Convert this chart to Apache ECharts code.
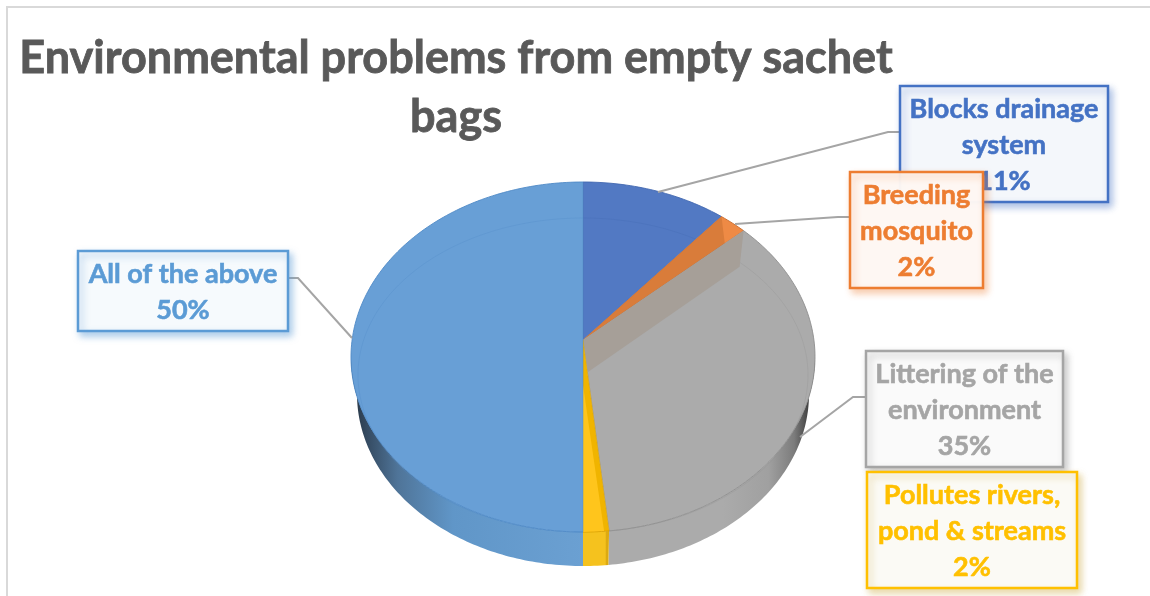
<!DOCTYPE html>
<html><head><meta charset="utf-8">
<style>html,body{margin:0;padding:0;background:#fff}#c{width:1150px;height:596px}</style>
<script src="https://cdn.jsdelivr.net/npm/echarts@6/dist/echarts.min.js"></script>
</head><body><div id="c"></div>
<script>
(function () {
// ---- data ----
const categories = ['Blocks drainage\nsystem', 'Breeding\nmosquito', 'Littering of the\nenvironment', 'Pollutes rivers,\npond & streams', 'All of the above'];
const shares = [11, 2, 35, 2, 50];
const titleText = 'Environmental problems from empty sachet\nbags';

// ---- styles ----
const FONT = 'Lato, Carlito, "Open Sans", sans-serif';
const faceColors = ['#5279C3', '#EE8A45', '#ABABAB', '#F0B400', '#689FD6'];
const innerColors = ['#5279C3', '#D97C3A', '#ABABAB', '#F0B400', '#689FD6'];
const lineColors = ['#4268B0', '#C96A2A', '#8E8E8E', '#D9A000', '#4F8AC6'];
const labelColors = ['#4472C4', '#ED7D31', '#A5A5A5', '#FFC000', '#5B9BD5'];
const labelFills = ['rgba(247,249,252,0.96)', 'rgba(254,249,246,0.96)', '#FAFAFA', '#FBFAF5', '#F6FAFD'];
const shadowColors = ['rgba(68,114,196,.45)', 'rgba(237,125,49,.4)', 'rgba(120,120,120,.4)', 'rgba(200,160,40,.4)', 'rgba(91,155,213,.5)'];
const boxes = [[900, 86, 208, 116], [850, 172, 133, 116], [866, 351, 197, 116], [867, 472, 210, 116], [78, 251, 210, 80]];
const leaders = [
  [[658, 192], [888, 132], [900, 132]],
  [[735, 224], [838, 217], [850, 217]],
  [[800, 437], [853, 397], [866, 397]],
  [],
  [[352, 338], [298, 278], [288, 278]]
];
const wallStops = [
  null, null,
  [[0.80, '#ABABAB'], [0.90, '#A0A0A0'], [0.955, '#7C7C7C'], [0.985, '#444444'], [1, '#2E2E2E']],
  null,
  [[0, '#26323E'], [0.03, '#33485E'], [0.1, '#4F7498'], [0.22, '#6096C8'], [0.5, '#6BA0D2']]
];

// ---- pie view geometry ----
const topRim = {cx: 583, cy: 357, rx: 232, ry: 175};
const floorRim = {cx: 583, cy: 394, rx: 226, ry: 172};
const bevel = {cx: 583, cy: 375, rx: 225, ry: 157};
const apex = [583, 340];
const warp = 3; // perspective foreshortening of the angles, degrees

const rad = d => d * Math.PI / 180;
const view = t => t - warp * Math.sin(rad(2 * t));
const onEll = (e, deg) => [e.cx + e.rx * Math.sin(rad(deg)), e.cy - e.ry * Math.cos(rad(deg))];
const total = shares.reduce((a, b) => a + b, 0);
function span(i) {
  let s = 0;
  for (let k = 0; k < i; k++) s += shares[k];
  return [s / total * 360, (s + shares[i]) / total * 360];
}
function arc(e, a, b) {
  const n = Math.max(2, Math.ceil(Math.abs(b - a)));
  const out = [];
  for (let k = 0; k <= n; k++) out.push(onEll(e, a + (b - a) * k / n));
  return out;
}
// angle on the bevel ellipse where the ray apex -> rim point meets it
function bevelAngle(p) {
  const dx = (p[0] - apex[0]) / bevel.rx, dy = (p[1] - apex[1]) / bevel.ry;
  const ox = (apex[0] - bevel.cx) / bevel.rx, oy = (apex[1] - bevel.cy) / bevel.ry;
  const A = dx * dx + dy * dy, B = 2 * (ox * dx + oy * dy), C = ox * ox + oy * oy - 1;
  const t = (-B + Math.sqrt(B * B - 4 * A * C)) / (2 * A);
  const x = ox + dx * t, y = oy + dy * t;
  let d = Math.atan2(x, -y) * 180 / Math.PI;
  return d < 0 ? d + 360 : d;
}

function renderWall(params, api) {
  const i = params.dataIndex;
  const sp = span(i);
  const a = Math.max(view(sp[0]), 90), b = Math.min(view(sp[1]), 270);
  if (b <= a) return {type: 'group', children: []};
  const pts = arc(topRim, a, b).concat(arc(floorRim, b, a));
  let fill = '#F5C21E';
  if (wallStops[i]) {
    fill = {type: 'linear', x: 351, y: 0, x2: 815, y2: 0, global: true,
      colorStops: wallStops[i].map(s => ({offset: s[0], color: s[1]}))};
  } else if (i === 3) {
    fill = {type: 'linear', x: 0, y: 0, x2: 1, y2: 0,
      colorStops: [{offset: 0, color: '#F5C21E'}, {offset: 0.86, color: '#F5C21E'}, {offset: 0.87, color: '#DDAA10'}, {offset: 1, color: '#DDAA10'}]};
  }
  return {type: 'polygon', shape: {points: pts}, style: {fill: fill, stroke: null}, silent: true};
}

function renderFace(params, api) {
  const i = params.dataIndex;
  const sp = span(i);
  const a = view(sp[0]), b = view(sp[1]);
  const rim = arc(topRim, a, b);
  const ia = i === 0 ? 0 : bevelAngle(onEll(topRim, a));
  const ib = (i === shares.length - 1) ? 360 : bevelAngle(onEll(topRim, b));
  const inner = arc(bevel, ia, ib);
  const kids = [
    {type: 'polygon', shape: {points: [apex].concat(rim)},
      style: {fill: faceColors[i], stroke: null}}
  ];
  if (i === 1) { // the narrow slice is shaded up to just short of its rim tip
    const e = rim[rim.length - 1], t = 0.883;
    kids.push({type: 'polygon',
      shape: {points: [apex, rim[0], [apex[0] + (e[0] - apex[0]) * t, apex[1] + (e[1] - apex[1]) * t]]},
      style: {fill: innerColors[i], stroke: null}});
  } else {
    kids.push({type: 'polyline', shape: {points: inner}, style: {fill: null, stroke: lineColors[i], lineWidth: 1, opacity: 0.28}});
  }
  kids.push(
    {type: 'polyline', shape: {points: rim}, style: {fill: null, stroke: lineColors[i], lineWidth: 1, opacity: 0.9}},
    {type: 'polyline', shape: {points: [rim[0], apex, rim[rim.length - 1]]}, style: {fill: null, stroke: lineColors[i], lineWidth: 1, opacity: 0.45}}
  );
  if (i === 2) { // translucent cut face along the start of this slice
    const p = rim[0];
    kids.push({type: 'polygon', shape: {points: [apex, p, [p[0] - 4, p[1] + 36], [apex[0] + 5, apex[1] + 32]]},
      style: {fill: '#A69F98', stroke: null}});
  }
  if (i === 3) { // lit part of the narrow slice
    const p = rim[0], q = rim[rim.length - 1];
    kids.push({type: 'polygon', shape: {points: [[apex[0], apex[1] + 45], q, [p[0] - 5, p[1]]]},
      style: {fill: '#FFC51C', stroke: null}});
  }
  return {type: 'group', children: kids, silent: true};
}

function renderCallout(params, api) {
  const i = params.dataIndex;
  const b = boxes[i];
  const kids = [];
  if (leaders[i].length) {
    kids.push({type: 'polyline', shape: {points: leaders[i]},
      style: {fill: null, stroke: '#A5A5A5', lineWidth: 2}});
  }
  kids.push({type: 'rect', shape: {x: b[0], y: b[1], width: b[2], height: b[3]},
    style: {fill: labelFills[i], stroke: labelColors[i], lineWidth: 2.5,
      shadowBlur: 7, shadowOffsetX: 3, shadowOffsetY: 4, shadowColor: shadowColors[i]}});
  kids.push({type: 'text', x: b[0] + b[2] / 2, y: b[1] + b[3] / 2 + 1,
    style: {text: categories[i] + '\n' + api.value(0) + '%', fill: labelColors[i],
      stroke: labelColors[i], lineWidth: 0.6,
      fontFamily: FONT, fontWeight: 'bold', fontSize: 27,
      lineHeight: 36, align: 'center', verticalAlign: 'middle'}});
  return {type: 'group', children: kids, silent: true};
}

const chart = echarts.init(document.getElementById('c'), null, {renderer: 'canvas'});
chart.setOption({
  animation: false,
  backgroundColor: '#fff',
  title: {
    text: titleText, left: 451, top: 24, textAlign: 'center',
    textStyle: {fontFamily: FONT, fontWeight: 'bold', fontSize: 45, lineHeight: 59, color: '#595959',
      textBorderColor: '#595959', textBorderWidth: 0.8}
  },
  graphic: [{type: 'rect', z: -1, shape: {x: 7, y: 7, width: 1300, height: 800},
    style: {fill: 'none', stroke: '#D9D9D9', lineWidth: 2}, silent: true}],
  series: [
    {type: 'custom', name: 'wall', coordinateSystem: 'none', renderItem: renderWall, data: shares, z: 2, silent: true},
    {type: 'custom', name: 'Environmental problems', coordinateSystem: 'none', renderItem: renderFace, data: shares, z: 3, silent: true},
    {type: 'custom', name: 'labels', coordinateSystem: 'none', renderItem: renderCallout, data: shares, z: 4, silent: true}
  ]
});
})();
</script></body></html>
